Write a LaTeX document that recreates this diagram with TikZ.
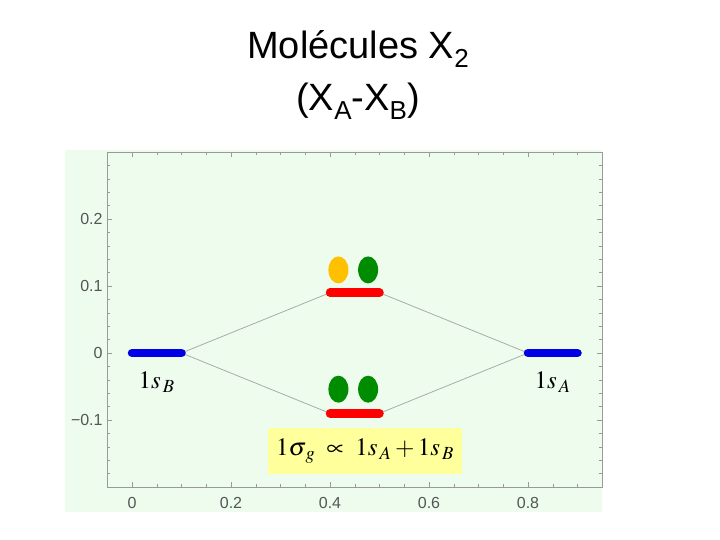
\documentclass[tikz,border=0pt]{standalone}
\usepackage{mathptmx}
\usepackage[no-math]{fontspec}
\setmainfont{Liberation Sans}
\usepackage{xcolor}
\usepackage{tikz}
\usetikzlibrary{
  positioning,
  shapes.geometric
}
\definecolor{PlotBg}{HTML}{EEFCEE}
\definecolor{FrameGray}{HTML}{9A9A9A}
\definecolor{LinkGray}{HTML}{AAAAAA}
\definecolor{TickText}{HTML}{555555}
\definecolor{LevelBlue}{HTML}{0000E6}
\definecolor{LevelRed}{HTML}{FF0000}
\definecolor{SpinGreen}{HTML}{008C00}
\definecolor{SpinOrange}{HTML}{FFC000}
\definecolor{NoteYellow}{HTML}{FFFF9C}

\newcommand{\titlesub}[1]{\raisebox{-9pt}{\fontsize{26}{26}\selectfont #1}}

\tikzset{
  level/.style={line width=8.5pt,line cap=round},
  link/.style={draw=LinkGray,line width=0.8pt},
  spin/.style={ellipse,inner sep=0pt,minimum width=20pt,minimum height=27pt},
  ticklabel/.style={text=TickText,font=\fontsize{16}{16}\selectfont,inner sep=0pt},
  orblabel/.style={font=\fontsize{25}{25}\selectfont,inner sep=0pt},
  titletext/.style={font=\fontsize{38}{38}\selectfont,anchor=base,inner sep=0pt}
}

\begin{document}
\begin{tikzpicture}[x=1pt,y=-1pt]
  \useasboundingbox (0,0) rectangle (720,540);
  % title
  \node[titletext] (title) at (358,59) {Molécules X\titlesub{2}};
  \node[titletext] (subtitle) at (358,111) {(X\titlesub{A}-X\titlesub{B})};
  % plot area
  \fill[PlotBg] (65,150) rectangle (602,512);
  \begin{scope}[shift={(132,353)},x=495pt,y=670pt]
    \draw[FrameGray,line width=0.6pt] (-0.05,-0.2) rectangle (0.95,0.3);
    % ticks
    \foreach \t in {0,0.05,...,0.91}
      \draw[FrameGray,line width=0.5pt] (\t,-0.2) -- ++(0,3pt) (\t,0.3) -- ++(0,-3pt);
    \foreach \t in {0,0.2,...,0.81}
      \draw[FrameGray,line width=0.5pt] (\t,-0.2) -- ++(0,5pt) (\t,0.3) -- ++(0,-5pt);
    \foreach \t in {-0.18,-0.16,...,0.29}
      \draw[FrameGray,line width=0.5pt] (-0.05,\t) -- ++(3pt,0) (0.95,\t) -- ++(-3pt,0);
    \foreach \t in {-0.1,0,0.1,0.2}
      \draw[FrameGray,line width=0.5pt] (-0.05,\t) -- ++(5pt,0) (0.95,\t) -- ++(-5pt,0);
    \foreach \t/\lab in {0/0,0.2/0.2,0.4/0.4,0.6/0.6,0.8/0.8}
      \node[ticklabel,anchor=center] (x\lab) at (\t,-0.224) {\lab};
    \foreach \t/\lab in {-0.1/−0.1,0/0,0.1/0.1,0.2/0.2}
      \node[ticklabel,anchor=east] (y\t) at (-0.059,\t) {\lab};

    % energy levels
    \coordinate (sBl) at (0,0);     \coordinate (sBr) at (0.1,0);
    \coordinate (sAl) at (0.8,0);   \coordinate (sAr) at (0.9,0);
    \coordinate (suL) at (0.4,0.09); \coordinate (suR) at (0.5,0.09);
    \coordinate (sgL) at (0.4,-0.09); \coordinate (sgR) at (0.5,-0.09);

    \draw[link] (sBr) -- (suL) (sBr) -- (sgL);
    \draw[link] (suR) -- (sAl) (sgR) -- (sAl);

    \draw[level,LevelBlue] (sBl) -- (sBr);
    \draw[level,LevelBlue] (sAl) -- (sAr);
    \draw[level,LevelRed] (suL) -- (suR);
    \draw[level,LevelRed] (sgL) -- (sgR);

    % electrons
    \node[spin,fill=SpinOrange] (eu1) at (0.417,0.124) {};
    \node[spin,fill=SpinGreen]  (eu2) at (0.477,0.124) {};
    \node[spin,fill=SpinGreen]  (eg1) at (0.417,-0.054) {};
    \node[spin,fill=SpinGreen]  (eg2) at (0.477,-0.054) {};

    % labels
    \node[orblabel] (labB) at (0.05,-0.043) {$1s_{\,B}$};
    \node[orblabel] (labA) at (0.85,-0.043) {$1s_{\,A}$};
  \end{scope}
  \node[fill=NoteYellow,minimum width=194pt,minimum height=46pt,inner sep=0pt,
        font=\fontsize{25}{25}\selectfont] (sigmag) at (365,451)
    {$1\sigma_{\,g}\;\propto\;1s_{\,A}+1s_{\,B}$};
\end{tikzpicture}
\end{document}
